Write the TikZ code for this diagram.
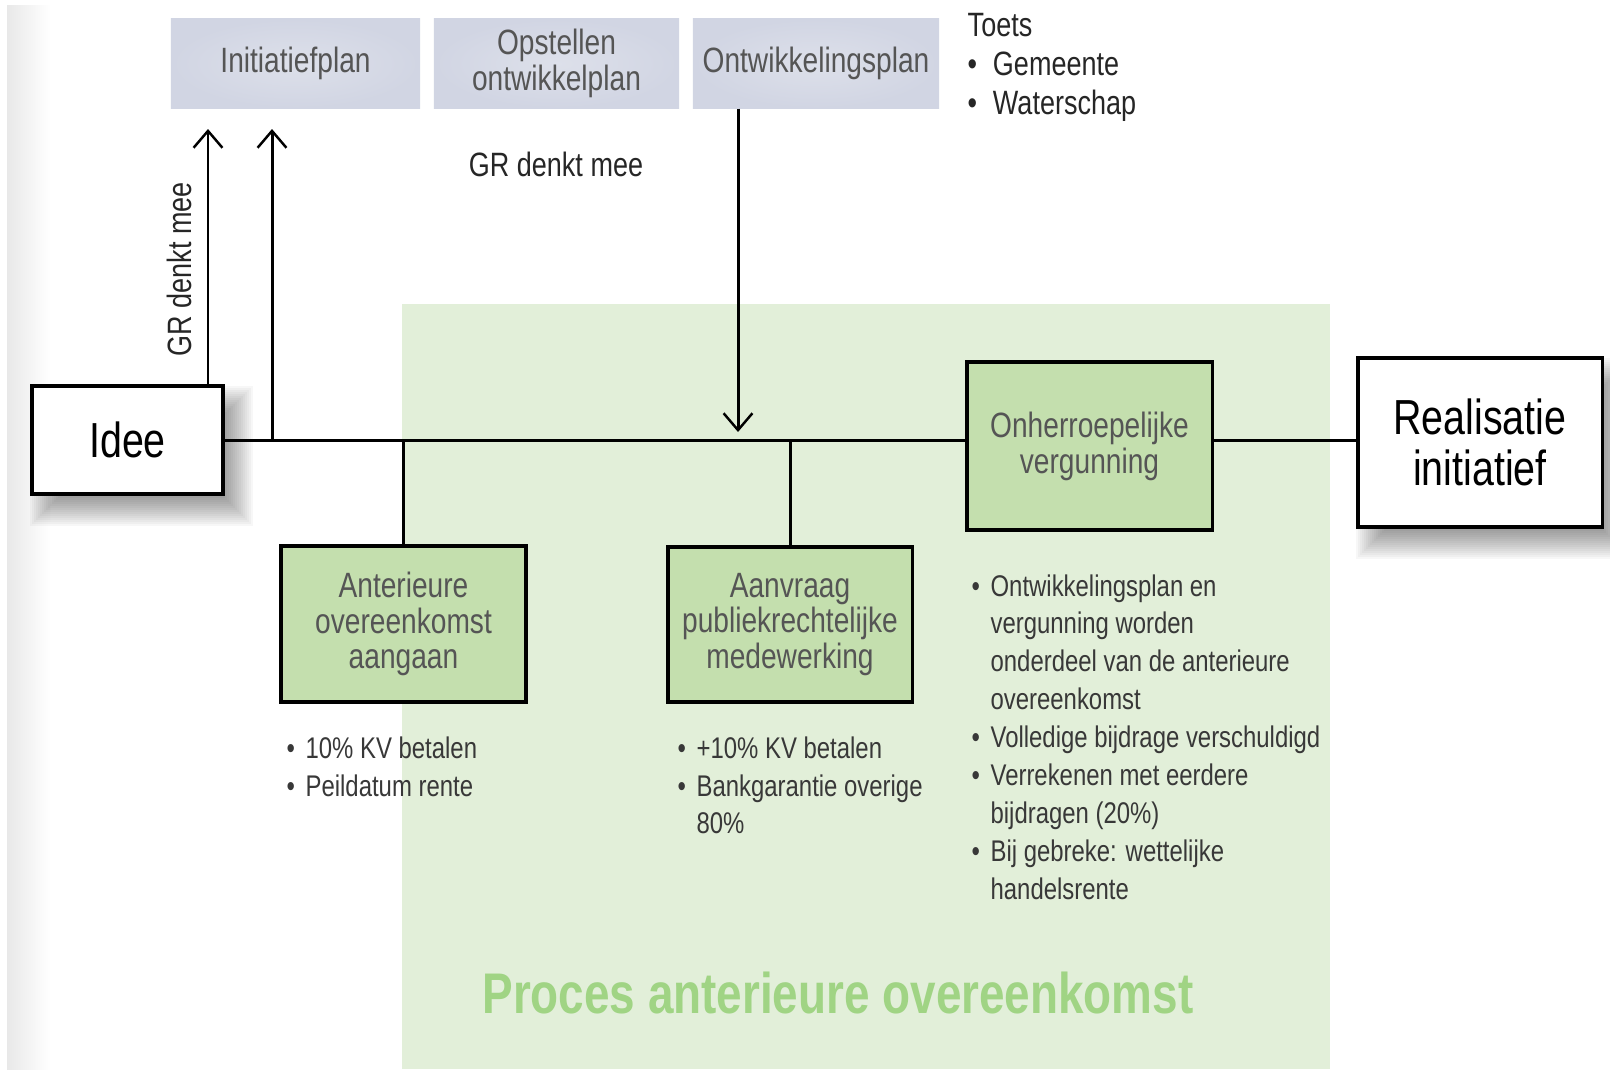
\documentclass[tikz,border=0pt]{standalone}
\usepackage{fontspec}
\setmainfont{Liberation Sans}
\newfontfamily\smalfont[FakeStretch=0.8]{Liberation Sans}
\usepackage{tikz}
\usetikzlibrary{arrows.meta,calc,backgrounds}
\definecolor{procesbg}{HTML}{E2EFD9}
\definecolor{stapgroen}{HTML}{C4DFAE}
\definecolor{planblauw}{HTML}{D1D5E3}
\definecolor{planlicht}{HTML}{DDE0EA}
\definecolor{titelgroen}{HTML}{A0D484}
\definecolor{tekstgrijs}{HTML}{555555}

\begin{document}
\begin{tikzpicture}[x=0.01cm,y=-0.01cm,>={Straight Barb[length=4.8pt,width=8.2pt,line width=0.7pt]},
  plan/.style={inner sep=0pt,minimum height=0.89cm,align=center,text=tekstgrijs,
    inner color=planlicht,outer color=planblauw,font=\smalfont\fontsize{10}{10.2}\selectfont},
  stap/.style={draw,line width=0.9pt,fill=stapgroen,inner sep=0pt,align=center,text=tekstgrijs,
    font=\smalfont\fontsize{10}{10.2}\selectfont},
  eind/.style={draw,line width=0.9pt,fill=white,inner sep=0pt,align=center,
    font=\smalfont\fontsize{14}{14.5}\selectfont},
  lijn/.style={line width=0.85pt},
  lijst/.style={anchor=base west,inner sep=0pt,text=black!78,font=\smalfont\fontsize{8.5}{10.8}\selectfont}]
  \useasboundingbox (0,0) rectangle (1610,1069);

  \node[plan,minimum width=2.49cm] (init) at (295.5,63.5) {Initiatiefplan};
  \node[plan,minimum width=2.45cm] (opst) at (556.5,63.5) {Opstellen\\ontwikkelplan};
  \node[plan,minimum width=2.46cm] (ontw) at (816,63.5) {Ontwikkelingsplan};

  \node[eind,minimum width=1.91cm,minimum height=1.08cm] (idee) at (127.5,440) {Idee};
  \node[stap,minimum width=2.45cm,minimum height=1.68cm] (onh) at (1089.5,446) {Onherroepelijke\\vergunning};
  \node[eind,minimum width=2.44cm,minimum height=1.69cm] (real) at (1480,442.5) {Realisatie\\initiatief};
  \node[stap,minimum width=2.45cm,minimum height=1.56cm] (anter) at (403.5,624) {Anterieure\\overeenkomst\\aangaan};
  \node[stap,minimum width=2.44cm,minimum height=1.55cm] (aanvr) at (790,624.5) {Aanvraag\\publiekrechtelijke\\medewerking};

  \begin{scope}[on background layer]
    \shade[left color=black!9,right color=white] (7,5) rectangle (50,1069);
    \fill[procesbg] (402,304) rectangle (1330,1069);
    \foreach \k in {0,...,14} {
      \fill[black,opacity=0.032] ($(idee.south west)+({28-2*\k},{2+2*\k})$) rectangle ($(idee.north east)+({2*\k},{30-2*\k})$);
      \fill[black,opacity=0.032] ($(real.south west)+({28-2*\k},{2+2*\k})$) rectangle ($(real.north east)+({2*\k},{30-2*\k})$);
    }
  \end{scope}

  \draw[lijn] (idee.east) -- (onh.west |- idee.east);
  \draw[lijn] (onh.east |- idee.east) -- (real.west |- idee.east);
  \draw[lijn] (anter.north) -- (anter.north |- idee.east);
  \draw[lijn] (aanvr.north) -- (aanvr.north |- idee.east);
  \coordinate (pijl1) at (208,129);
  \coordinate (pijl2) at (272,129);
  \coordinate (pijl3) at (738,432);
  \draw[lijn,->] (pijl1 |- idee.north) -- (pijl1);
  \draw[lijn,->] (pijl2 |- idee.east) -- (pijl2);
  \draw[lijn,->] (pijl3 |- ontw.south) -- (pijl3);

  \node[inner sep=0pt,text=black!85,font=\smalfont\fontsize{9.6}{11}\selectfont] (mee1) at (556,164) {GR denkt mee};
  \node[inner sep=0pt,rotate=90,text=black!85,font=\smalfont\fontsize{9.6}{11}\selectfont] (mee2) at (179,269) {GR denkt mee};
  \node[lijst,text=black!85,font=\smalfont\fontsize{9.6}{11.2}\selectfont] (toets) at (967,36)
    {\begin{tabular}[t]{@{}l@{\hspace{4.5pt}}l@{}}\multicolumn{2}{@{}l@{}}{Toets}\\ \textbullet & Gemeente\\ \textbullet & Waterschap\end{tabular}};

  \node[lijst] (lijst1) at (286,758)
    {\begin{tabular}[t]{@{}l@{\hspace{3pt}}l@{}}\textbullet & 10\% KV betalen\\ \textbullet & Peildatum rente\end{tabular}};
  \node[lijst] (lijst2) at (677,758)
    {\begin{tabular}[t]{@{}l@{\hspace{3pt}}l@{}}\textbullet & +10\% KV betalen\\ \textbullet & Bankgarantie overige\\ & 80\%\end{tabular}};
  \node[lijst] (lijst3) at (971,596)
    {\begin{tabular}[t]{@{}l@{\hspace{3pt}}l@{}}\textbullet & Ontwikkelingsplan en\\ & vergunning worden\\ & onderdeel van de anterieure\\ & overeenkomst\\
     \textbullet & Volledige bijdrage verschuldigd\\ \textbullet & Verrekenen met eerdere\\ & bijdragen (20\%)\\ \textbullet & Bij gebreke: wettelijke\\ & handelsrente\end{tabular}};

  \node[inner sep=0pt,text=titelgroen,font=\smalfont\bfseries\fontsize{16.3}{18}\selectfont] (titel) at (838,993) {Proces anterieure overeenkomst};
\end{tikzpicture}
\end{document}
